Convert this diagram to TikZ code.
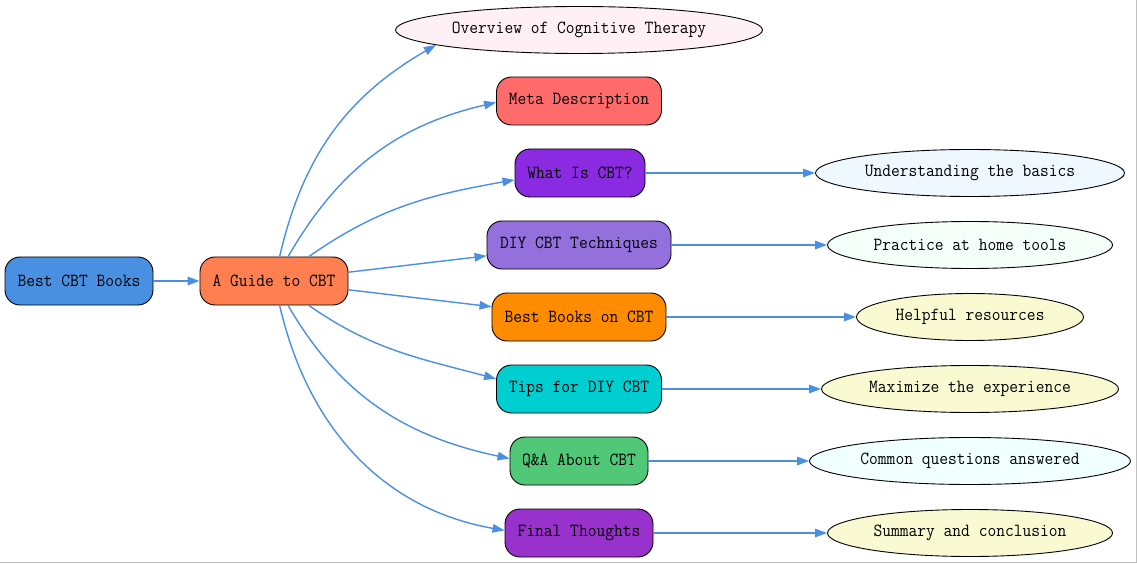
\documentclass[tikz,border=0pt]{standalone}
\usepackage{fontspec}
\newfontfamily\labelfont{Latin Modern Mono}[FakeStretch=0.92]
\usetikzlibrary{shapes.geometric}
\usetikzlibrary{arrows.meta}

\definecolor{edgeblue}{HTML}{4A90E2}
\definecolor{rootblue}{HTML}{4A90E2}
\definecolor{guidecoral}{HTML}{FF7F50}
\definecolor{metared}{HTML}{FF6B6B}
\definecolor{whatviolet}{HTML}{8A2BE2}
\definecolor{diypurple}{HTML}{9370DB}
\definecolor{booksorange}{HTML}{FF8C00}
\definecolor{tipsturq}{HTML}{00CED1}
\definecolor{qagreen}{HTML}{50C878}
\definecolor{finalorchid}{HTML}{9932CC}
\definecolor{blushpink}{HTML}{FFF0F5}
\definecolor{alice}{HTML}{F0F8FF}
\definecolor{mint}{HTML}{F5FFFA}
\definecolor{goldlight}{HTML}{FAFAD2}
\definecolor{azurelight}{HTML}{F0FFFF}

\tikzset{
    topic/.style={draw, line width=0.9pt, rounded corners=15pt, minimum height=48pt,
        inner sep=0pt, font=\labelfont\fontsize{18.5pt}{20pt}\selectfont},
    detail/.style={draw, ellipse, line width=0.9pt, minimum height=47pt,
        inner sep=0pt, font=\labelfont\fontsize{18.5pt}{20pt}\selectfont},
    edge/.style={edgeblue, line width=1.4pt, -{Triangle[length=12pt,width=8.5pt]}}
}

\begin{document}
\begin{tikzpicture}[x=1pt, y=1pt]
    \useasboundingbox (0,0) rectangle (1137,563);
    \draw[gray!50, line width=1.5pt] (0,0.75) -- (1136.25,0.75) -- (1136.25,563);

    % left side
    \node[topic, fill=rootblue, minimum width=148pt] (root) at (79,282) {Best CBT Books};
    \node[topic, fill=guidecoral, minimum width=148pt] (guide) at (274,282) {A Guide to CBT};

    % sections
    \node[detail, fill=blushpink, minimum width=367pt] (overview) at (579,533) {Overview of Cognitive Therapy};
    \node[topic, fill=metared, minimum width=165pt] (meta) at (579,462) {Meta Description};
    \node[topic, fill=whatviolet, minimum width=130pt] (what) at (580,390) {What Is CBT?};
    \node[topic, fill=diypurple, minimum width=184pt] (diy) at (579,318) {DIY CBT Techniques};
    \node[topic, fill=booksorange, minimum width=174pt] (books) at (579,246) {Best Books on CBT};
    \node[topic, fill=tipsturq, minimum width=165pt] (tips) at (579,174) {Tips for DIY CBT};
    \node[topic, fill=qagreen, minimum width=138pt] (qa) at (579,102) {Q\&A About CBT};
    \node[topic, fill=finalorchid, minimum width=148pt] (final) at (579,30) {Final Thoughts};

    % details
    \node[detail, fill=alice, minimum width=309pt] (basics) at (970,390) {Understanding the basics};
    \node[detail, fill=mint, minimum width=285pt] (practice) at (970,318) {Practice at home tools};
    \node[detail, fill=goldlight, minimum width=227pt] (helpful) at (970,246) {Helpful resources};
    \node[detail, fill=goldlight, minimum width=297pt] (maximize) at (970,174) {Maximize the experience};
    \node[detail, fill=azurelight, minimum width=321pt] (common) at (970,102) {Common questions answered};
    \node[detail, fill=goldlight, minimum width=285pt] (summary) at (970,30) {Summary and conclusion};

    \draw[edge] (root) -- (guide);

    \draw[edge] (guide) to[out=77, in=210] (overview.186);
    \draw[edge] (guide) to[out=60, in=193] (meta.181);
    \draw[edge] (guide) to[out=35, in=190] (what.186);
    \draw[edge] (guide) -- (diy);
    \draw[edge] (guide) -- (books);
    \draw[edge] (guide) to[out=-35, in=165] (tips.173);
    \draw[edge] (guide) to[out=-60, in=168] (qa.178);
    \draw[edge] (guide) to[out=-77, in=170] (final.178);

    \draw[edge] (what) -- (basics);
    \draw[edge] (diy) -- (practice);
    \draw[edge] (books) -- (helpful);
    \draw[edge] (tips) -- (maximize);
    \draw[edge] (qa) -- (common);
    \draw[edge] (final) -- (summary);
\end{tikzpicture}
\end{document}
